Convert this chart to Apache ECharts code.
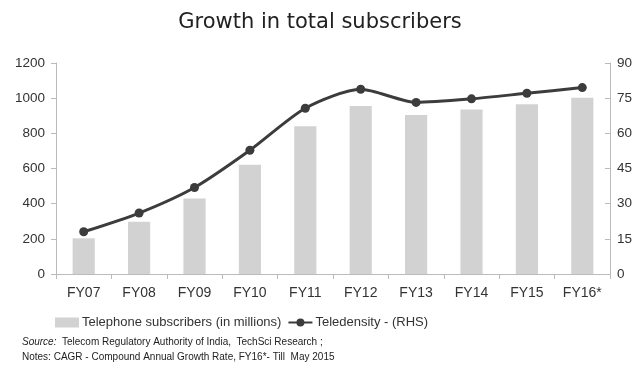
<!DOCTYPE html>
<html><head><meta charset="utf-8">
<script src="https://cdn.jsdelivr.net/npm/echarts@6/dist/echarts.min.js"></script>
<style>html,body{margin:0;padding:0;background:#fff}#c{width:640px;height:368px}</style>
</head><body><div id="c"></div>
<script>
const categories = ['FY07','FY08','FY09','FY10','FY11','FY12','FY13','FY14','FY15','FY16*'];
const subscribers = [203, 297, 429, 621, 840, 955, 904, 936, 965, 1002];
const teledensity = [18.0, 26.0, 36.9, 52.8, 70.7, 78.8, 73.2, 74.7, 77.1, 79.5];
const leftTicks = [0, 200, 400, 600, 800, 1000, 1200];
const rightTicks = [0, 15, 30, 45, 60, 75, 90];
const FONT = '"Liberation Sans", Arial, sans-serif';
const chart = echarts.init(document.getElementById('c'));
chart.setOption({
  animation: false,
  title: { text: 'Growth in total subscribers', left: 'center', top: 7,
    textStyle: { fontFamily: '"DejaVu Sans", sans-serif', fontSize: 21, fontWeight: 'normal', color: '#222' } },
  grid: { left: 56, right: 30, top: 63, bottom: 94 },
  legend: {
    left: 50, top: 311, itemGap: 6, itemWidth: 24, itemHeight: 10,
    textStyle: { fontFamily: FONT, fontSize: 13, color: '#333', padding: [0,0,0,-2] },
    data: [
      { name: 'Telephone subscribers (in millions)', icon: 'rect' },
      { name: 'Teledensity - (RHS)' }
    ]
  },
  xAxis: {
    type: 'category', data: categories,
    axisLine: { lineStyle: { color: '#bbb', width: 1 } },
    axisTick: { show: true, length: 5, lineStyle: { color: '#bbb' } },
    axisLabel: { fontFamily: FONT, fontSize: 14, color: '#333', margin: 12 }
  },
  yAxis: [
    { type: 'value', min: 0, max: 1200, interval: 200,
      axisLine: { show: true, lineStyle: { color: '#bbb' } },
      axisTick: { show: true, length: 5, lineStyle: { color: '#bbb' } },
      splitLine: { show: false },
      axisLabel: { fontFamily: FONT, fontSize: 13.5, color: '#333', margin: 11,
        formatter: v => leftTicks.includes(v) ? String(v) : '' } },
    { type: 'value', min: 0, max: 90, interval: 15, position: 'right',
      axisLine: { show: true, lineStyle: { color: '#bbb' } },
      axisTick: { show: true, inside: true, length: 5, lineStyle: { color: '#bbb' } },
      splitLine: { show: false },
      axisLabel: { fontFamily: FONT, fontSize: 13.5, color: '#333', margin: 7,
        formatter: v => rightTicks.includes(v) ? String(v) : '' } }
  ],
  series: [
    { name: 'Telephone subscribers (in millions)', type: 'bar', data: subscribers,
      barWidth: '40%', itemStyle: { color: '#d2d2d2' } },
    { name: 'Teledensity - (RHS)', type: 'line', yAxisIndex: 1, data: teledensity,
      smooth: 0.25, symbol: 'circle', symbolSize: 9,
      lineStyle: { color: '#3c3c3c', width: 3 }, itemStyle: { color: '#3c3c3c' } }
  ],
  graphic: [
    { type: 'text', left: 22, top: 337, style: {
      text: '{i|Source:}  Telecom Regulatory Authority of India,  TechSci Research ;',
      fontFamily: FONT, fontSize: 10, fill: '#222',
      rich: { i: { fontStyle: 'italic', fontFamily: FONT, fontSize: 10, fill: '#222' } } } },
    { type: 'text', left: 22, top: 352, style: {
      text: 'Notes: CAGR - Compound Annual Growth Rate, FY16*- Till  May 2015',
      fontFamily: FONT, fontSize: 10, fill: '#222' } }
  ]
});
</script></body></html>
